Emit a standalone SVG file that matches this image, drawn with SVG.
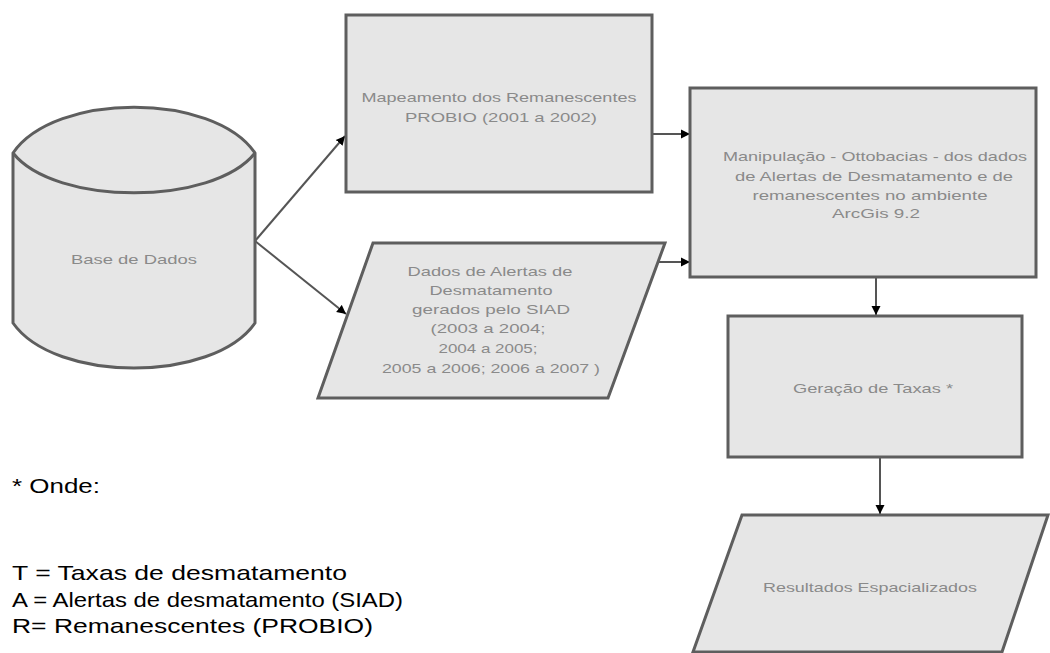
<svg xmlns="http://www.w3.org/2000/svg" width="1050" height="653" viewBox="0 0 1050 653">
<defs>
<marker id="ah" markerUnits="userSpaceOnUse" markerWidth="10" markerHeight="10" refX="9" refY="5" orient="auto">
<path d="M0,0.5 L9,5 L0,9.5 z" fill="#000"/>
</marker>
<style>
.shape{fill:#e6e6e6;stroke:#5e5e5e;stroke-width:3;stroke-linejoin:miter}
.lbl{font-family:"Liberation Sans",Arial,sans-serif;font-size:13px;fill:#8a8a8a;text-anchor:middle}
.note{font-family:"Liberation Sans",Arial,sans-serif;font-size:21px;fill:#000}
.conn{fill:none;stroke:#555;stroke-width:2;marker-end:url(#ah)}
</style>
</defs>
<rect width="1050" height="653" fill="#fff"/>
<g id="connectors">
<path class="conn" d="M255,241 L345,136"/>
<path class="conn" d="M255,241 L346,314"/>
<path class="conn" d="M652,134 L690,134"/>
<path class="conn" d="M659,262 L690,262"/>
<path class="conn" d="M876,277 L876,315"/>
<path class="conn" d="M880,457 L880,514"/>
</g>
<g id="base-de-dados">
<path class="shape" d="M13,153 C55,92 213,92 255,153 L255,323 C213,383 55,383 13,323 Z"/>
<path class="shape" style="fill:none" d="M13,153 C55,206 213,206 255,153"/>
<text class="lbl" x="134" y="264" textLength="126" lengthAdjust="spacingAndGlyphs">Base de Dados</text>
</g>
<g id="mapeamento">
<rect class="shape" x="346" y="15" width="306" height="177"/>
<text class="lbl" x="499" y="102" textLength="275" lengthAdjust="spacingAndGlyphs">Mapeamento dos Remanescentes</text>
<text class="lbl" x="501" y="122" textLength="192" lengthAdjust="spacingAndGlyphs">PROBIO (2001 a 2002)</text>
</g>
<g id="dados-alertas">
<path class="shape" d="M373,243 L665,243 L608,398 L318,398 Z"/>
<text class="lbl" x="490" y="276" textLength="165" lengthAdjust="spacingAndGlyphs">Dados de Alertas de</text>
<text class="lbl" x="491" y="295" textLength="123" lengthAdjust="spacingAndGlyphs">Desmatamento</text>
<text class="lbl" x="491" y="314" textLength="158" lengthAdjust="spacingAndGlyphs">gerados pelo SIAD</text>
<text class="lbl" x="488" y="333" textLength="115" lengthAdjust="spacingAndGlyphs">(2003 a 2004;</text>
<text class="lbl" x="488" y="353" textLength="99" lengthAdjust="spacingAndGlyphs">2004 a 2005;</text>
<text class="lbl" x="491" y="373" textLength="218" lengthAdjust="spacingAndGlyphs">2005 a 2006; 2006 a 2007 )</text>
</g>
<g id="manipulacao">
<rect class="shape" x="690" y="88" width="346" height="189"/>
<text class="lbl" x="875" y="161" textLength="304" lengthAdjust="spacingAndGlyphs">Manipulação - Ottobacias - dos dados</text>
<text class="lbl" x="874" y="181" textLength="278" lengthAdjust="spacingAndGlyphs">de Alertas de Desmatamento e de</text>
<text class="lbl" x="870" y="200" textLength="235" lengthAdjust="spacingAndGlyphs">remanescentes no ambiente</text>
<text class="lbl" x="876" y="218" textLength="88" lengthAdjust="spacingAndGlyphs">ArcGis 9.2</text>
</g>
<g id="geracao">
<rect class="shape" x="728" y="316" width="294" height="141"/>
<text class="lbl" x="873" y="393" textLength="160" lengthAdjust="spacingAndGlyphs">Geração de Taxas *</text>
</g>
<g id="resultados">
<path class="shape" d="M742,515 L1048,515 L1002,652 L693,652 Z"/>
<text class="lbl" x="870" y="592" textLength="214" lengthAdjust="spacingAndGlyphs">Resultados Espacializados</text>
</g>
<g id="nota">
<text class="note" x="12" y="493" textLength="88" lengthAdjust="spacingAndGlyphs">* Onde:</text>
<text class="note" x="12" y="580" textLength="335" lengthAdjust="spacingAndGlyphs">T = Taxas de desmatamento</text>
<text class="note" x="12" y="607" textLength="391" lengthAdjust="spacingAndGlyphs">A = Alertas de desmatamento (SIAD)</text>
<text class="note" x="12" y="633" textLength="361" lengthAdjust="spacingAndGlyphs">R= Remanescentes (PROBIO)</text>
</g>
</svg>
